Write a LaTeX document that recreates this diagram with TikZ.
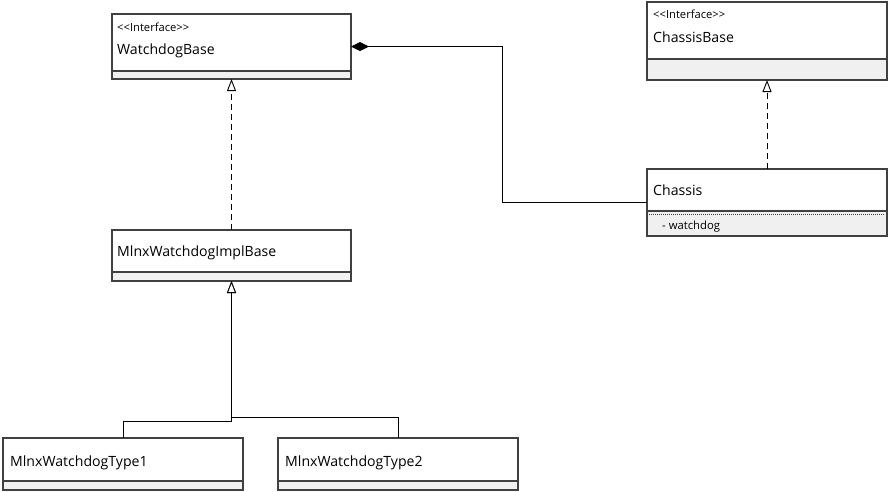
\documentclass[tikz,border=0pt]{standalone}
\usepackage{fontspec}
\setmainfont{Open Sans}
\usetikzlibrary{arrows.meta}

\definecolor{boxline}{RGB}{64,64,64}
\definecolor{compfill}{RGB}{240,240,240}

\tikzset{
  classbox/.style={draw=boxline, line width=1.1pt, inner sep=0pt, outer sep=0pt,
                   anchor=north west, fill=white},
  compart/.style={fill=compfill},
  divider/.style={draw=boxline, line width=1.1pt},
  stereo/.style={anchor=base west, inner sep=0pt, font=\fontsize{11.2}{13}\selectfont},
  cname/.style={anchor=base west, inner sep=0pt, font=\fontsize{14.1}{16}\selectfont},
  member/.style={anchor=base west, inner sep=0pt, font=\fontsize{11.3}{13}\selectfont},
  conn/.style={draw=black, line width=0.9pt},
  realize/.style={conn, dash pattern=on 6pt off 4pt,
                  -{Triangle[length=12pt, width=9pt, fill=white]}},
  generalize/.style={conn, -{Triangle[length=12pt, width=9pt, fill=white]}},
  compose/.style={conn, {Diamond[length=18pt, width=9pt, fill=black]}-}
}

\begin{document}
\begin{tikzpicture}[x=1pt, y=-1pt]
\useasboundingbox (0,0) rectangle (888,491);

% ---- WatchdogBase
\node[classbox, minimum width=239pt, minimum height=65pt] (wb) at (112,14) {};
\fill[compart] (113,71) rectangle (350,78.5);
\draw[divider] (112,71) -- (351,71);
\draw[boxline, line width=1.1pt] (wb.north west) rectangle (wb.south east);
\node[stereo] (wbs) at (117,31.5) {{<}{<}Interface{>}{>}};
\node[cname] (wbn) at (117,54) {WatchdogBase};

% ---- ChassisBase
\node[classbox, minimum width=240pt, minimum height=78pt] (cb) at (647,2) {};
\fill[compart] (648,59) rectangle (886,79.5);
\draw[divider] (647,59) -- (887,59);
\draw[boxline, line width=1.1pt] (cb.north west) rectangle (cb.south east);
\node[stereo] (cbs) at (653,18) {{<}{<}Interface{>}{>}};
\node[cname] (cbn) at (653,42) {ChassisBase};

% ---- Chassis
\node[classbox, minimum width=240pt, minimum height=67pt] (ch) at (647,169) {};
\fill[compart] (648,211) rectangle (886,235.5);
\draw[divider] (647,211) -- (887,211);
\draw[boxline, line width=0.6pt, dash pattern=on 1pt off 1pt] (649,214.5) -- (885,214.5);
\draw[boxline, line width=1.1pt] (ch.north west) rectangle (ch.south east);
\node[cname] (chn) at (653,195) {Chassis};
\node[member] (chm) at (662,229) {- watchdog};

% ---- MlnxWatchdogImplBase
\node[classbox, minimum width=239pt, minimum height=51pt] (ib) at (112,230) {};
\fill[compart] (113,272) rectangle (350,280.5);
\draw[divider] (112,272) -- (351,272);
\draw[boxline, line width=1.1pt] (ib.north west) rectangle (ib.south east);
\node[cname] (ibn) at (117,256) {MlnxWatchdogImplBase};

% ---- MlnxWatchdogType1
\node[classbox, minimum width=240pt, minimum height=52pt] (t1) at (3,438) {};
\fill[compart] (4,481) rectangle (242,489.5);
\draw[divider] (3,481) -- (243,481);
\draw[boxline, line width=1.1pt] (t1.north west) rectangle (t1.south east);
\node[cname] (t1n) at (10,466) {MlnxWatchdogType1};

% ---- MlnxWatchdogType2
\node[classbox, minimum width=240pt, minimum height=52pt] (t2) at (278,438) {};
\fill[compart] (279,481) rectangle (517,489.5);
\draw[divider] (278,481) -- (518,481);
\draw[boxline, line width=1.1pt] (t2.north west) rectangle (t2.south east);
\node[cname] (t2n) at (285,466) {MlnxWatchdogType2};

% ---- connectors
\coordinate (bend) at (502,0);
\coordinate (g1) at (0,421);
\coordinate (g2) at (0,417);

\draw[realize] (ib.north) -- (wb.south);
\draw[realize] (ch.north) -- (cb.south);
\draw[compose] (wb.east) -| (bend |- ch.west) -- (ch.west);
\draw[generalize] (t1.north) |- (ib.south |- g1) -- (ib.south);
\draw[generalize] (t2.north) |- (ib.south |- g2) -- (ib.south);
\end{tikzpicture}
\end{document}
